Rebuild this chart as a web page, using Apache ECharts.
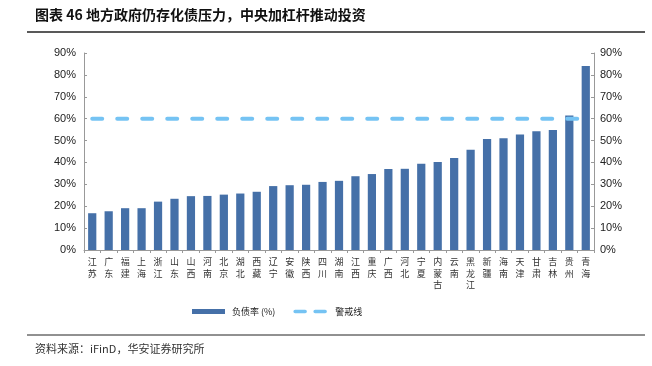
<!DOCTYPE html>
<html><head><meta charset="utf-8">
<script src="https://cdn.jsdelivr.net/npm/echarts@6/dist/echarts.min.js"></script>
<style>html,body{margin:0;padding:0;background:#fff}#c{width:652px;height:366px}</style>
</head><body><div id="c"></div>
<script>
const categories = ['江苏','广东','福建','上海','浙江','山东','山西','河南','北京','湖北','西藏','辽宁','安徽','陕西','四川','湖南','江西','重庆','广西','河北','宁夏','内蒙古','云南','黑龙江','新疆','海南','天津','甘肃','吉林','贵州','青海'];
const debtRatio = [16.8,17.7,19.1,19.1,22.1,23.4,24.6,24.7,25.3,25.8,26.6,29.2,29.6,29.8,31.1,31.6,33.7,34.7,37.0,37.1,39.4,40.2,42.0,45.8,50.7,51.0,52.8,54.2,54.8,61.5,84.1];
const warningLine = categories.map(() => 60);
const yTicks = [0,10,20,30,40,50,60,70,80,90];

const font = '"Noto Sans CJK SC", "Liberation Sans", sans-serif';
const chart = echarts.init(document.getElementById('c'), null, {renderer:'canvas'});
const axisCommon = {
  type:'value', min:0, max:90, interval:10,
  axisLine:{show:true, lineStyle:{color:'#999', width:1}},
  axisTick:{show:true, inside:true, length:3, lineStyle:{color:'#999'}},
  splitLine:{show:false},
  axisLabel:{formatter:'{value}%', color:'#222', fontSize:11, fontFamily:'"Liberation Sans", Arial, sans-serif'}
};
chart.setOption({
  animation:false,
  textStyle:{fontFamily:font},
  grid:{left:84, right:58, top:53, bottom:116, containLabel:false},
  xAxis:{
    type:'category', data:categories,
    axisLine:{lineStyle:{color:'#999', width:1}},
    axisTick:{show:true, length:3, lineStyle:{color:'#999'}},
    axisLabel:{interval:0, color:'#333', fontSize:9, lineHeight:11.5, margin:6,
      formatter: v => v.split('').join('\n')}
  },
  yAxis:[
    Object.assign({}, axisCommon, {position:'left', axisLabel:Object.assign({}, axisCommon.axisLabel, {margin:8})}),
    Object.assign({}, axisCommon, {position:'right', axisLabel:Object.assign({}, axisCommon.axisLabel, {margin:6})})
  ],
  legend:{
    top:307, left:192, padding:0, itemGap:18, itemWidth:33, itemHeight:5,
    textStyle:{fontSize:9, color:'#222', fontFamily:font, padding:[0,0,0,2]},
    data:[
      {name:'负债率 (%)', icon:'rect'},
      {name:'警戒线', itemStyle:{opacity:0}, lineStyle:{type:[10,10], width:3.5, cap:'round', color:'#75C3F3'}}
    ]
  },
  series:[
    {name:'负债率 (%)', type:'bar', data:debtRatio, barWidth:'50%',
      itemStyle:{color:'#4570A8'}},
    {name:'警戒线', type:'line', data:warningLine, symbol:'none',
      lineStyle:{color:'#75C3F3', width:4, type:[10,15], cap:'round'},
      itemStyle:{color:'#75C3F3'}, z:5}
  ],
  graphic:[
    {type:'text', left:35, top:8, style:{text:'图表 46 地方政府仍存化债压力，中央加杠杆推动投资', fontSize:14, fontWeight:'bold', fill:'#111', fontFamily:font}},
    {type:'line', shape:{x1:27, y1:32, x2:645, y2:32}, style:{stroke:'#222', lineWidth:1.3}},
    {type:'line', shape:{x1:27, y1:335, x2:645, y2:335}, style:{stroke:'#222', lineWidth:1}},
    {type:'text', left:35, top:343, style:{text:'资料来源：iFinD，华安证券研究所', fontSize:11, fill:'#333', fontFamily:font}}
  ]
});
</script></body></html>
